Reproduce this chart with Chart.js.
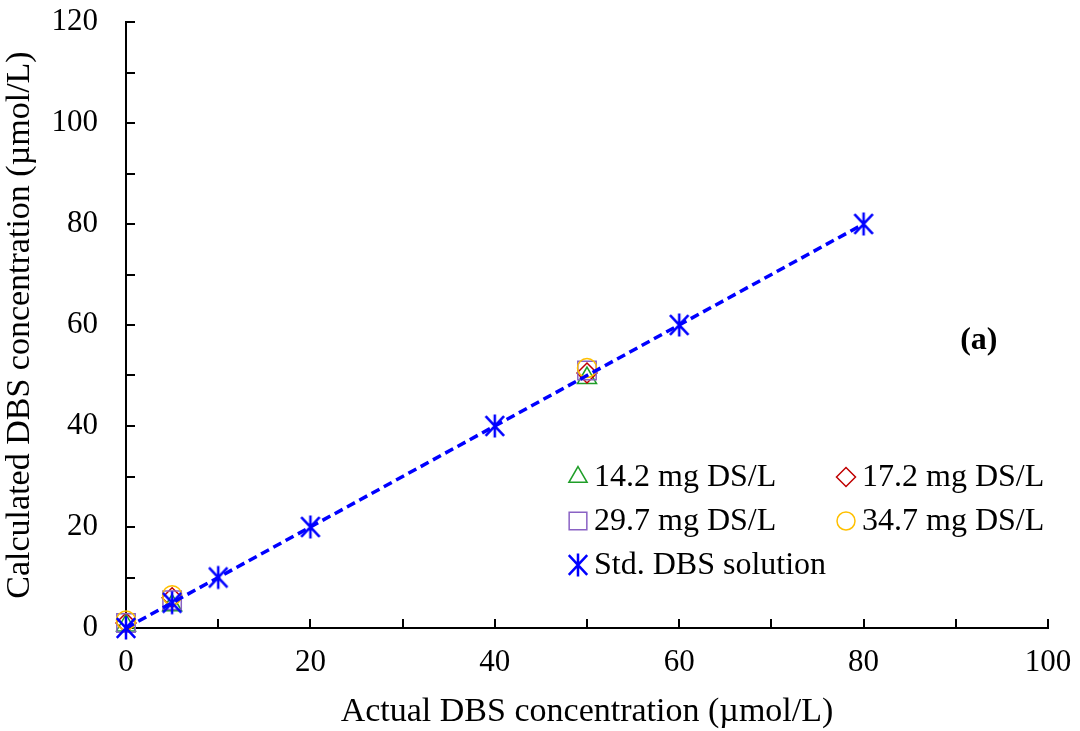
<!DOCTYPE html>
<html lang="en">
<head>
  <meta charset="UTF-8">
  <title>Calculated vs actual DBS concentration</title>
  <script src="https://cdn.jsdelivr.net/npm/chart.js"></script>
  <style>
    body { margin: 0; background: #fff; }
    #wrap { width: 1080px; height: 731px; }
  </style>
</head>
<body>
  <div id="wrap"><canvas id="c" width="1080" height="731"></canvas></div>
  <script>
    // series data (actual, calculated)
    const seriesLabels = ['14.2 mg DS/L', '17.2 mg DS/L', '29.7 mg DS/L', '34.7 mg DS/L', 'Std. DBS solution'];
    const xSample = [0, 5, 50];
    const y142 = [0.5, 4.5, 49.5];
    const y172 = [1.0, 6.0, 50.5];
    const y297 = [1.0, 5.5, 51.0];
    const y347 = [1.5, 6.5, 51.5];
    const xStd = [0, 5, 10, 20, 40, 60, 80];
    const yStd = [0, 5, 10, 20, 40, 60, 80];

    const FONT = 'Liberation Serif';

    // asterisk marker like the Excel "star" (X with a vertical bar)
    function makeStar(size, color) {
      const cv = document.createElement('canvas');
      cv.width = size; cv.height = size;
      const g = cv.getContext('2d');
      const h = size / 2, r = size / 2 - 1.5;
      g.strokeStyle = color;
      g.lineWidth = 2.5;
      g.beginPath();
      g.moveTo(h - r * 0.8, h - r * 0.85); g.lineTo(h + r * 0.8, h + r * 0.85);
      g.moveTo(h + r * 0.8, h - r * 0.85); g.lineTo(h - r * 0.8, h + r * 0.85);
      g.moveTo(h, h - r); g.lineTo(h, h + r);
      g.stroke();
      return cv;
    }
    const starImg = makeStar(26, '#0000ff');

    const pts = (xs, ys) => xs.map((x, i) => ({ x: x, y: ys[i] }));

    const datasets = [
      { label: seriesLabels[0], data: pts(xSample, y142), pointStyle: 'triangle', pointRadius: 11,
        borderColor: '#1f9e28', backgroundColor: 'rgba(0,0,0,0)', pointBorderWidth: 1.5, showLine: false, order: 4, clip: false },
      { label: seriesLabels[1], data: pts(xSample, y172), pointStyle: 'rectRot', pointRadius: 10,
        borderColor: '#c00000', backgroundColor: 'rgba(0,0,0,0)', pointBorderWidth: 1.5, showLine: false, order: 3, clip: false },
      { label: seriesLabels[2], data: pts(xSample, y297), pointStyle: 'rect', pointRadius: 13,
        borderColor: '#8a62c4', backgroundColor: 'rgba(0,0,0,0)', pointBorderWidth: 1.5, showLine: false, order: 2, clip: false },
      { label: seriesLabels[3], data: pts(xSample, y347), pointStyle: 'circle', pointRadius: 9.5,
        borderColor: '#ffc000', backgroundColor: 'rgba(0,0,0,0)', pointBorderWidth: 1.5, showLine: false, order: 1, clip: false },
      { label: seriesLabels[4], data: pts(xStd, yStd), pointStyle: starImg, pointRadius: 13,
        borderColor: '#0000ff', backgroundColor: '#0000ff', borderWidth: 3.5, borderDash: [9, 5],
        showLine: true, tension: 0, order: 0, clip: false }
    ];

    // inward tick marks + the "(a)" tag
    const inwardTicks = {
      id: 'inwardTicks',
      afterDraw(chart) {
        const ctx = chart.ctx, xs = chart.scales.x, ys = chart.scales.y, a = chart.chartArea;
        ctx.save();
        ctx.strokeStyle = '#000';
        ctx.lineWidth = 2;
        ctx.beginPath();
        for (let v = 10; v <= 100; v += 10) {
          const px = Math.round(xs.getPixelForValue(v));
          ctx.moveTo(px, a.bottom); ctx.lineTo(px, a.bottom - 9);
        }
        for (let v = 10; v <= 120; v += 10) {
          const py = Math.round(ys.getPixelForValue(v));
          ctx.moveTo(a.left, py); ctx.lineTo(a.left + 9, py);
        }
        ctx.stroke();
        ctx.fillStyle = '#000';
        ctx.font = 'bold 32px ' + FONT;
        ctx.textAlign = 'center';
        ctx.textBaseline = 'middle';
        ctx.fillText('(a)', xs.getPixelForValue(92.5), ys.getPixelForValue(56.8));
        ctx.restore();
      }
    };

    // two-column legend inside the plot area
    const innerLegend = {
      id: 'innerLegend',
      afterDraw(chart) {
        const ctx = chart.ctx, a = chart.chartArea;
        const cols = [a.left + 452, a.left + 720];
        const rows = [a.bottom - 151, a.bottom - 107, a.bottom - 63];
        ctx.save();
        ctx.font = '32px ' + FONT;
        ctx.textAlign = 'left';
        ctx.textBaseline = 'middle';
        chart.data.datasets.forEach((ds, i) => {
          const cx = cols[i % 2], cy = rows[Math.floor(i / 2)];
          ctx.strokeStyle = ds.borderColor;
          ctx.fillStyle = ds.backgroundColor;
          ctx.lineWidth = ds.pointBorderWidth || 1.5;
          ctx.setLineDash([]);
          Chart.helpers.drawPoint(ctx, {
            pointStyle: ds.pointStyle, radius: ds.pointRadius - 0.5,
            borderWidth: ctx.lineWidth, rotation: 0
          }, cx, cy);
          ctx.fillStyle = '#000';
          ctx.fillText(ds.label, cx + 16, cy + 1);
        });
        ctx.restore();
      }
    };

    new Chart(document.getElementById('c'), {
      type: 'scatter',
      data: { datasets: datasets },
      options: {
        responsive: false,
        animation: false,
        layout: { padding: { top: 22, right: 32, left: 0, bottom: 0 } },
        plugins: { legend: { display: false }, tooltip: { enabled: false } },
        scales: {
          x: {
            type: 'linear', min: 0, max: 100,
            afterFit(s) { s.height = 103; s.paddingLeft = 0; s.paddingRight = 0; },
            border: { color: '#000', width: 2 },
            grid: { display: false },
            ticks: {
              stepSize: 10, color: '#000', padding: 8, maxRotation: 0,
              font: { family: FONT, size: 31 },
              callback: v => (v % 20 === 0 ? v : '')
            },
            title: { display: true, text: 'Actual DBS concentration (µmol/L)', color: '#000',
                     font: { family: FONT, size: 34, lineHeight: 1 }, padding: { top: 0, bottom: 2 } }
          },
          y: {
            type: 'linear', min: 0, max: 120,
            afterFit(s) { s.width = 126; s.paddingTop = 0; s.paddingBottom = 0; },
            border: { color: '#000', width: 2 },
            grid: { display: false },
            ticks: {
              stepSize: 10, color: '#000', padding: 20,
              font: { family: FONT, size: 31 },
              callback: v => (v % 20 === 0 ? v : '')
            },
            title: { display: true, text: 'Calculated DBS concentration (µmol/L)', color: '#000',
                     font: { family: FONT, size: 34 }, padding: { top: 0, bottom: 0 } }
          }
        }
      },
      plugins: [inwardTicks, innerLegend]
    });
  </script>
</body>
</html>
